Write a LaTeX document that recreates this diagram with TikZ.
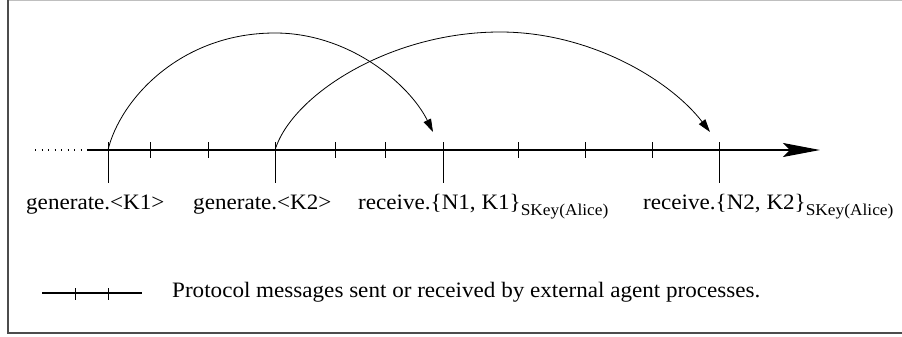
\documentclass[tikz,border=0pt]{standalone}
\usepackage{fontspec}
\setmainfont{Liberation Serif}[FakeStretch=1.05]
\usetikzlibrary{arrows.meta}
\newcommand{\subtxt}[1]{\raisebox{-6pt}{\fontsize{16.5}{19}\selectfont #1}}
\begin{document}
\begin{tikzpicture}[x=1pt,y=-1pt,
  lbl/.style={anchor=base west, inner sep=0pt, font=\fontsize{22}{26}\selectfont},
  tickline/.style={line width=0.8pt},
  axisline/.style={line width=1.6pt},
  arcline/.style={line width=0.8pt, -{Triangle[length=13pt,width=8pt]}}]
\useasboundingbox (0,0) rectangle (902,337);
% frame
\draw[black!25, line width=1pt] (8,0.5) -- (902,0.5);
\draw[black!70, line width=1.2pt] (8,0) -- (8,333) -- (902,333);
% axis
\coordinate (d0) at (35,150);
\coordinate (a0) at (87,150);
\coordinate (aend) at (820,150);
\draw[line width=1.4pt, dash pattern=on 1.4pt off 5.1pt] (d0) -- (a0);
\draw[axisline, -{Stealth[length=37pt,width=14pt,inset=7pt]}] (a0) -- (aend);
% long ticks
\foreach \x/\n in {108/t1,275/t2,443/t3,719/t4}{
  \coordinate (\n) at (\x,150);
  \draw[tickline] (\x,142) -- (\x,183);
}
% short ticks
\foreach \x in {150,208,335,385,518,585,652}{
  \draw[tickline] (\x,142) -- (\x,158);
}
% arcs
\coordinate (e1) at (433,132);
\coordinate (e2) at (710,132);
\coordinate (m1) at (275,33);
\coordinate (m2) at (500,32);
\draw[arcline] (t1) .. controls (120,100) and (180,33) .. (m1)
  .. controls (350,33) and (410,85) .. (e1);
\draw[arcline] (t2) .. controls (292,95) and (390,32) .. (m2)
  .. controls (590,32) and (670,80) .. (e2);
% labels
\node[lbl] (l1) at (26,209) {generate.<K1>};
\node[lbl] (l2) at (193,209) {generate.<K2>};
\node[lbl] (l3) at (358,209) {receive.\{N1, K1\}\subtxt{SKey(Alice)}};
\node[lbl] (l4) at (643,209) {receive.\{N2, K2\}\subtxt{SKey(Alice)}};
% legend
\coordinate (g0) at (42,293);
\coordinate (g1) at (142,293);
\draw[axisline] (g0) -- (g1);
\draw[tickline] (75,288) -- (75,300);
\draw[tickline] (108,288) -- (108,300);
\node[lbl] (leg) at (172,297) {Protocol messages sent or received by external agent processes.};
\end{tikzpicture}
\end{document}
